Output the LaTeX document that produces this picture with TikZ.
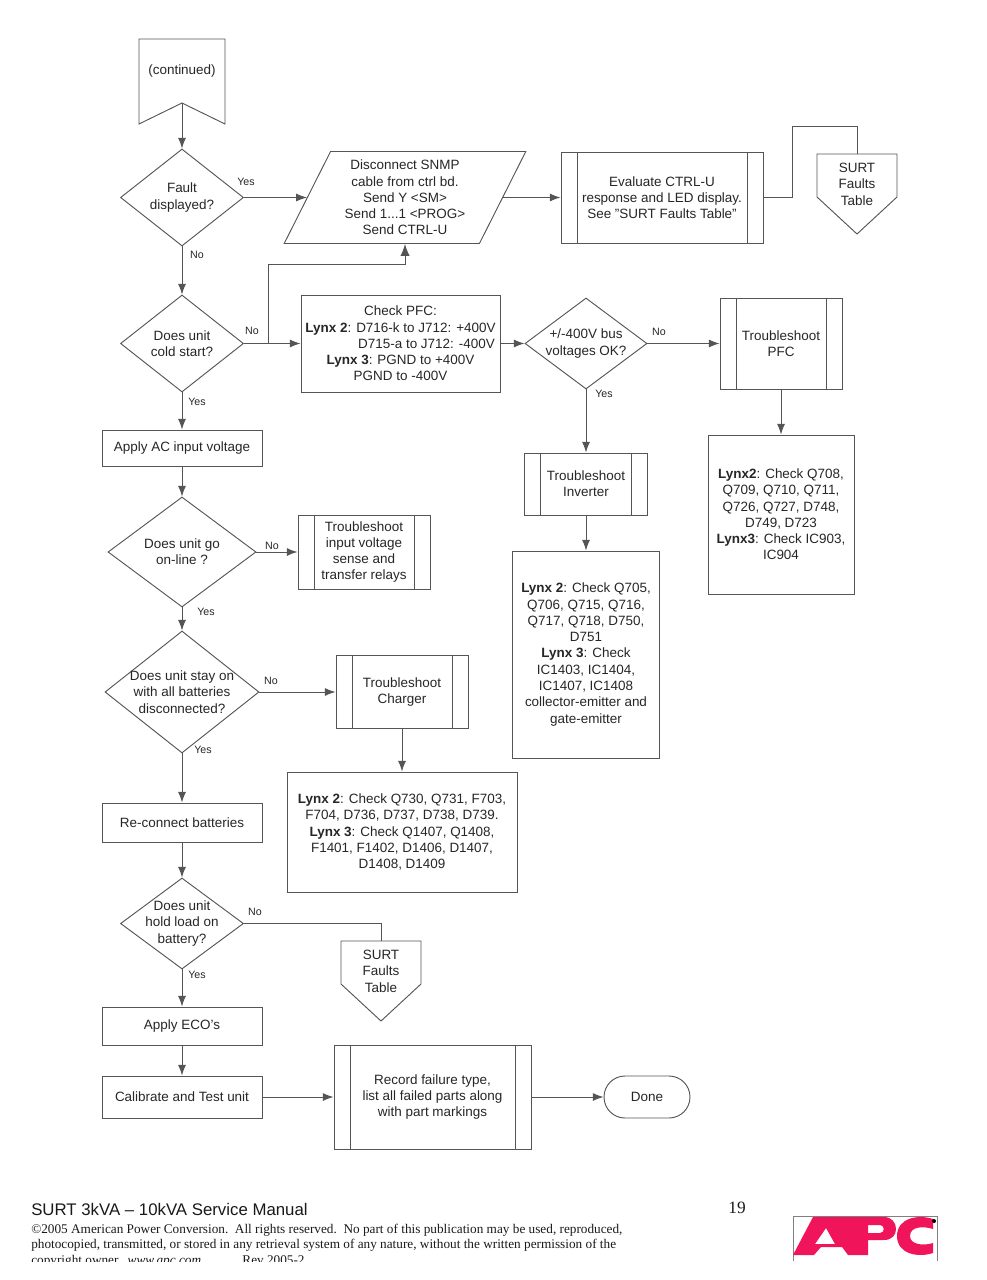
\documentclass[tikz,border=0pt]{standalone}
\usepackage{fontspec}
\setmainfont{Liberation Sans}
\newfontfamily\timesfont{Liberation Serif}
\usetikzlibrary{arrows.meta,shapes.geometric}
\definecolor{apcred}{RGB}{240,20,90}
\definecolor{linegray}{RGB}{85,85,85}
\tikzset{
wh/.style 2 args={minimum width=#1*0.75pt,minimum height=#2*0.75pt},
base/.style={inner sep=0pt,align=center,text=black!85,font=\fontsize{10.1}{12.2}\selectfont},
step box/.style={base,draw=linegray,line width=0.7pt},
predefined/.style={step box,path picture={
\draw[linegray,line width=0.7pt] ([xshift=12pt]path picture bounding box.north west) -- ([xshift=12pt]path picture bounding box.south west);
\draw[linegray,line width=0.7pt] ([xshift=-12pt]path picture bounding box.north east) -- ([xshift=-12pt]path picture bounding box.south east);
}},
decision/.style={step box,diamond,inner sep=-14pt},
lbl/.style={inner sep=0pt,text=black!85,font=\fontsize{8}{9}\selectfont},
flow/.style={draw=linegray,line width=0.7pt,->,>={Latex[length=8pt,width=6pt]}},
wire/.style={draw=linegray,line width=0.7pt},
foot/.style={inner sep=0pt,anchor=west,text=black!90},
}
\begin{document}
\begin{tikzpicture}[x=0.75pt,y=-0.75pt]
\useasboundingbox (0,0) rectangle (986,1280);
\newcommand\offpage[3]{
\path[wire] (-40+#2,0+#3) -- (40+#2,0+#3) -- (40+#2,43+#3) -- (0+#2,80+#3) -- (-40+#2,43+#3) -- cycle;
\node[base,wh={80}{60},anchor=north] (#1) at (#2,#3) {SURT\\Faults\\Table};
}
% left column
\path[wire] (139,39) -- (225,39) -- (225,124) -- (182,103) -- (139,124) -- cycle;
\node[base] (continued) at (182,71) {(continued)};
\coordinate (continuedend) at (182,103);
\node[decision,wh={123}{97}] (fault) at (182,197.5) {Fault\\displayed?};
\node[decision,wh={123}{97}] (cold) at (182,343.5) {Does unit\\cold start?};
\node[step box,wh={160}{36}] (acin) at (182,448) {Apply AC input voltage};
\node[decision,wh={148}{110}] (online) at (182,552) {Does unit go\\on-line ?};
\node[decision,wh={154}{122}] (stay) at (182,692) {Does unit stay on\\with all batteries\\disconnected?};
\node[step box,wh={160}{39}] (reconnect) at (182,822.5) {Re-connect batteries};
\node[decision,wh={123}{91}] (hold) at (182,923.5) {Does unit\\hold load on\\battery?};
\node[step box,wh={160}{38}] (eco) at (182,1026) {Apply ECO's};
\node[step box,wh={160}{42}] (calibrate) at (182,1097) {Calibrate and Test unit};
% top row
\node[base,trapezium,draw=linegray,line width=0.7pt,trapezium left angle=63.4,trapezium right angle=116.6,trapezium stretches=true,wh={242}{92}] (snmp) at (405,197.5) {Disconnect SNMP\\cable from ctrl bd.\\Send Y <SM>\\Send 1...1 <PROG>\\Send CTRL-U};
\node[predefined,wh={202}{91}] (evaluate) at (662,197.5) {Evaluate CTRL-U\\response and LED display.\\See "SURT Faults Table"};
\offpage{faultsa}{857}{154}
\coordinate (bendc) at (792,126);
\coordinate (benda) at (268,264);
% check PFC row
\node[step box,wh={199}{97}] (pfc) at (400.5,343.5) {Check PFC:\\\textbf{Lynx 2}: D716-k to J712: +400V\\\hspace*{39pt}D715-a to J712: -400V\\\textbf{Lynx 3}: PGND to +400V\\PGND to -400V};
\node[decision,wh={122}{91}] (bus) at (586,343.5) {+/-400V bus\\voltages OK?};
\node[predefined,wh={122}{91}] (trpfc) at (781,343.5) {Troubleshoot\\PFC};
\node[step box,wh={146}{159}] (lynxpfc) at (781,514.5) {\textbf{Lynx2}: Check Q708,\\Q709, Q710, Q711,\\Q726, Q727, D748,\\D749, D723\\\textbf{Lynx3}: Check IC903,\\IC904};
\node[predefined,wh={123}{62}] (trinv) at (586,484) {Troubleshoot\\Inverter};
\node[step box,wh={147}{207}] (lynxinv) at (586,654.5) {\textbf{Lynx 2}: Check Q705,\\Q706, Q715, Q716,\\Q717, Q718, D750,\\D751\\\textbf{Lynx 3}: Check\\IC1403, IC1404,\\IC1407, IC1408\\collector-emitter and\\gate-emitter};
% middle branches
\node[predefined,wh={132}{74}] (trinput) at (364,552) {Troubleshoot\\input voltage\\sense and\\transfer relays};
\node[predefined,wh={132}{73}] (trcharger) at (402,692) {Troubleshoot\\Charger};
\node[step box,wh={230}{120}] (lynxcharger) at (402,832) {\textbf{Lynx 2}: Check Q730, Q731, F703,\\F704, D736, D737, D738, D739.\\\textbf{Lynx 3}: Check Q1407, Q1408,\\F1401, F1402, D1406, D1407,\\D1408, D1409};
\offpage{faultsb}{381}{941}
% bottom row
\node[predefined,wh={197}{104}] (record) at (432.5,1097) {Record failure type,\\list all failed parts along\\with part markings};
\node[step box,rounded corners=21*0.75pt,wh={86}{42}] (done) at (647,1097) {Done};
% connectors
\path[flow] (continuedend) -- (fault.north);
\path[flow] (fault.south) -- (cold.north);
\path[flow] (cold.south) -- (acin.north);
\path[flow] (acin.south) -- (online.north);
\path[flow] (online.south) -- (stay.north);
\path[flow] (stay.south) -- (reconnect.north);
\path[flow] (reconnect.south) -- (hold.north);
\path[flow] (hold.south) -- (eco.north);
\path[flow] (eco.south) -- (calibrate.north);
\path[flow] (fault.east) -- (snmp.left side);
\path[flow] (snmp.right side) -- (evaluate.west);
\path[wire] (evaluate.east) -| (bendc) -| (faultsa.north);
\path[flow] (cold.east) -- (pfc.west);
\path[flow,>={Latex[length=9pt,width=7pt]}] (benda |- cold.east) -- (benda) -| (snmp.south);
\path[flow] (pfc.east) -- (bus.west);
\path[flow] (bus.east) -- (trpfc.west);
\path[flow] (trpfc.south) -- (lynxpfc.north);
\path[flow] (bus.south) -- (trinv.north);
\path[flow] (trinv.south) -- (lynxinv.north);
\path[flow] (online.east) -- (trinput.west);
\path[flow] (stay.east) -- (trcharger.west);
\path[flow] (trcharger.south) -- (lynxcharger.north);
\path[wire] (hold.east) -| (faultsb.north);
\path[flow] (calibrate.east) -- (record.west);
\path[flow] (record.east) -- (done.west);
% yes and no
\node[lbl] (yesa) at (246,182) {Yes};
\node[lbl] (noa) at (197,255) {No};
\node[lbl] (nob) at (252,331) {No};
\node[lbl] (yesb) at (197,402) {Yes};
\node[lbl] (noc) at (659,332) {No};
\node[lbl] (yesc) at (604,394) {Yes};
\node[lbl] (nod) at (272,546) {No};
\node[lbl] (yesd) at (206,612) {Yes};
\node[lbl] (noe) at (271,681) {No};
\node[lbl] (yese) at (203,750) {Yes};
\node[lbl] (nof) at (255,912) {No};
\node[lbl] (yesf) at (197,975) {Yes};
% page footer
\node[foot,font=\fontsize{12.6}{14}\selectfont] (manual) at (31,1209) {SURT 3kVA -- 10kVA Service Manual};
\node[foot,anchor=center,font=\timesfont\fontsize{13}{15}\selectfont] (page) at (737,1208) {19};
\begin{scope}
\clip (0,1200) rectangle (986,1261);
\node[foot,font=\timesfont\fontsize{9.94}{11}\selectfont] (rights) at (31,1230) {©2005 American Power Conversion.\ \ All rights reserved.\ \ No part of this publication may be used, reproduced,};
\node[foot,font=\timesfont\fontsize{9.94}{11}\selectfont] (rightsb) at (31,1245) {photocopied, transmitted, or stored in any retrieval system of any nature, without the written permission of the};
\node[foot,font=\timesfont\fontsize{9.94}{11}\selectfont] (rightsc) at (31,1261) {copyright owner.\ \ \textit{www.apc.com}\hspace{31pt}Rev 2005-2};
\end{scope}
% logo
\draw[gray,line width=0.5pt] (793,1261) -- (793,1216) -- (937,1216) -- (937,1261);
\fill[apcred,even odd rule] (793,1255) -- (813,1217) -- (884,1217) .. controls (892,1217) and (896,1223) .. (896,1229) .. controls (896,1235) and (892,1240) .. (884,1240) -- (868,1240) -- (868,1255) -- (848,1255) -- (842,1247) -- (821,1247) -- (814,1255) -- cycle
(815,1244) -- (826,1228) -- (835,1244) -- cycle
(868,1225) -- (868,1233) -- (880,1233) .. controls (885,1233) and (885,1225) .. (880,1225) -- cycle;
\fill[apcred] (933,1229) -- (933,1219) .. controls (918,1214) and (897,1218) .. (897,1236) .. controls (897,1254) and (918,1258) .. (933,1253) -- (933,1243) .. controls (924,1246) and (910,1245) .. (910,1236) .. controls (910,1226) and (924,1226) .. (933,1229) -- cycle;
\fill[black] (934,1221) circle (2);
\end{tikzpicture}
\end{document}
